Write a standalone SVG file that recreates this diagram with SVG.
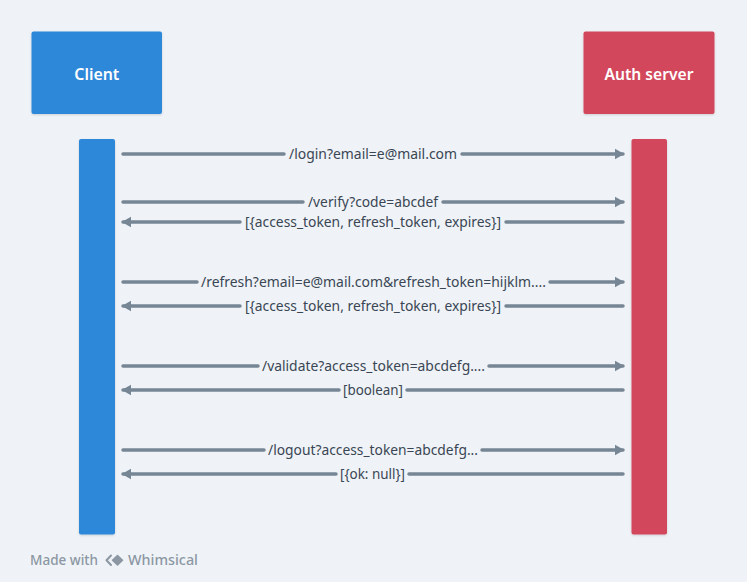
<svg xmlns="http://www.w3.org/2000/svg" width="747" height="582" viewBox="0 0 747 582">
<defs>
<style>
.bg{fill:#eff3f7}
.client{fill:#2d88da}
.auth{fill:#d3465c}
.atitle{font-family:"Noto Sans","Lato",sans-serif;font-size:16.5px;font-weight:600;fill:#ffffff;text-anchor:middle;dominant-baseline:central}
.ln{stroke:#778694;stroke-width:3.5;stroke-linecap:round;fill:none}
.lbl{font-family:"Noto Sans","Lato",sans-serif;font-size:13.5px;fill:#3a4654;dominant-baseline:central}
.foot{font-family:"Noto Sans","Lato",sans-serif;font-size:14px;font-weight:500;fill:#8c97a3;dominant-baseline:central}
</style>
<filter id="sh" x="-10%" y="-10%" width="120%" height="130%">
<feDropShadow dx="0" dy="1" stdDeviation="1.2" flood-color="#000" flood-opacity="0.15"/>
</filter>
<marker id="ah" viewBox="0 0 10 12" refX="9" refY="6" markerWidth="10" markerHeight="12" markerUnits="userSpaceOnUse" orient="auto-start-reverse">
<path d="M1,0.8 L9,5.2 Q10,6 9,6.8 L1,11.2 Z" fill="#778694"/>
</marker>
</defs>
<rect class="bg" x="0" y="0" width="747" height="582"/>

<g id="client">
<rect class="client" x="31.5" y="31.5" width="130.5" height="82.5" rx="2" filter="url(#sh)"/>
<text class="atitle" x="96.8" y="73" textLength="45" lengthAdjust="spacingAndGlyphs">Client</text>
</g>
<g id="auth-server">
<rect class="auth" x="583.5" y="31.5" width="131" height="82.5" rx="2" filter="url(#sh)"/>
<text class="atitle" x="649" y="73" textLength="89" lengthAdjust="spacingAndGlyphs">Auth server</text>
</g>
<g id="client-lifeline">
<rect class="client" x="79" y="139" width="36" height="395.5" rx="2" filter="url(#sh)"/>
</g>
<g id="auth-lifeline">
<rect class="auth" x="631.5" y="139" width="35.5" height="395.5" rx="2" filter="url(#sh)"/>
</g>

<g id="connectors">
<line class="ln" x1="123" y1="154" x2="284" y2="154"/>
<line class="ln" x1="462" y1="154" x2="623" y2="154" marker-end="url(#ah)"/>
<text class="lbl" x="289" y="154" textLength="168" lengthAdjust="spacingAndGlyphs">/login?email=e@mail.com</text>

<line class="ln" x1="123" y1="202" x2="303" y2="202"/>
<line class="ln" x1="443" y1="202" x2="623" y2="202" marker-end="url(#ah)"/>
<text class="lbl" x="308" y="202" textLength="130" lengthAdjust="spacingAndGlyphs">/verify?code=abcdef</text>

<line class="ln" x1="240" y1="222" x2="123" y2="222" marker-end="url(#ah)"/>
<line class="ln" x1="506" y1="222" x2="623" y2="222"/>
<text class="lbl" x="245" y="222" textLength="256" lengthAdjust="spacingAndGlyphs">[{access_token, refresh_token, expires}]</text>

<line class="ln" x1="123" y1="282" x2="197" y2="282"/>
<line class="ln" x1="550" y1="282" x2="623" y2="282" marker-end="url(#ah)"/>
<text class="lbl" x="201" y="282" textLength="345" lengthAdjust="spacingAndGlyphs">/refresh?email=e@mail.com&amp;refresh_token=hijklm....</text>

<line class="ln" x1="240" y1="306" x2="123" y2="306" marker-end="url(#ah)"/>
<line class="ln" x1="506" y1="306" x2="623" y2="306"/>
<text class="lbl" x="245" y="306" textLength="256" lengthAdjust="spacingAndGlyphs">[{access_token, refresh_token, expires}]</text>

<line class="ln" x1="123" y1="366" x2="258" y2="366"/>
<line class="ln" x1="489" y1="366" x2="623" y2="366" marker-end="url(#ah)"/>
<text class="lbl" x="262" y="366" textLength="223" lengthAdjust="spacingAndGlyphs">/validate?access_token=abcdefg....</text>

<line class="ln" x1="339" y1="390" x2="123" y2="390" marker-end="url(#ah)"/>
<line class="ln" x1="407" y1="390" x2="623" y2="390"/>
<text class="lbl" x="343" y="390" textLength="60" lengthAdjust="spacingAndGlyphs">[boolean]</text>

<line class="ln" x1="123" y1="450" x2="264" y2="450"/>
<line class="ln" x1="482" y1="450" x2="623" y2="450" marker-end="url(#ah)"/>
<text class="lbl" x="268" y="450" textLength="210" lengthAdjust="spacingAndGlyphs">/logout?access_token=abcdefg...</text>

<line class="ln" x1="336" y1="474" x2="123" y2="474" marker-end="url(#ah)"/>
<line class="ln" x1="409" y1="474" x2="623" y2="474"/>
<text class="lbl" x="340" y="474" textLength="65" lengthAdjust="spacingAndGlyphs">[{ok: null}]</text>
</g>

<g id="footer">
<text class="foot" x="30" y="559.5" textLength="68" lengthAdjust="spacingAndGlyphs">Made with</text>
<path d="M111,555.5 L106.5,560.3 L111,565" fill="none" stroke="#8c97a3" stroke-width="2" stroke-linejoin="round" stroke-linecap="round"/>
<path d="M117.5,555.5 L122.5,560.3 L117.5,565 L112.5,560.3 Z" fill="#8c97a3" stroke="#8c97a3" stroke-width="1.5" stroke-linejoin="round"/>
<text class="foot" x="128" y="559.5" textLength="70" lengthAdjust="spacingAndGlyphs">Whimsical</text>
</g>
</svg>
